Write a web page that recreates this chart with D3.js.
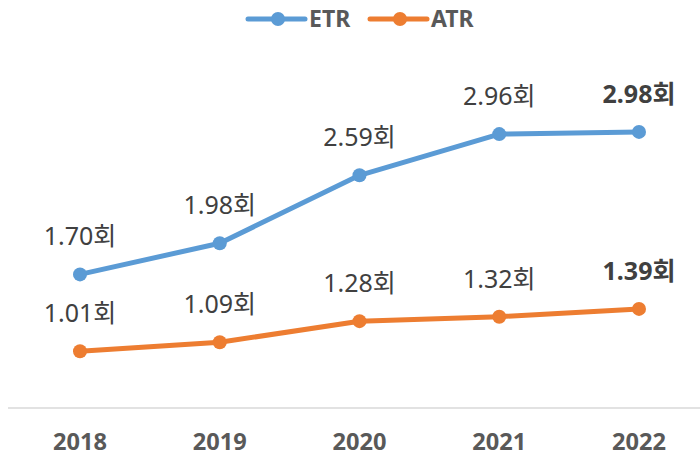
<!DOCTYPE html>
<html>
<head>
<meta charset="utf-8">
<script src="https://cdn.jsdelivr.net/npm/d3@7"></script>
<style>
  body { margin: 0; background: #fff; }
  text { font-family: "Noto Sans", "Noto Sans CJK KR", sans-serif; }
</style>
</head>
<body>
<div id="chart"></div>
<script>
// values
const years = ["2018", "2019", "2020", "2021", "2022"];
const etr = [1.70, 1.98, 2.59, 2.96, 2.98];
const atr = [1.01, 1.09, 1.28, 1.32, 1.39];
const seriesNames = ["ETR", "ATR"];
const colors = ["#5B9BD5", "#ED7D31"];

const WIDTH = 700, HEIGHT = 456;

const svg = d3.select("#chart").append("svg")
  .attr("width", WIDTH).attr("height", HEIGHT);

const x = d3.scalePoint().domain(years).range([80, 639]);
const y = d3.scaleLinear().domain([0.5, 3.5]).range([408, 74]);

// baseline
svg.append("line")
  .attr("x1", 8).attr("x2", 700)
  .attr("y1", y(0.5)).attr("y2", y(0.5))
  .attr("stroke", "#d9d9d9").attr("stroke-width", 1.5);

// x labels
svg.append("g").selectAll("text").data(years).enter().append("text")
  .attr("x", d => x(d)).attr("y", 450)
  .attr("text-anchor", "middle")
  .attr("font-size", 24).attr("font-weight", "bold")
  .attr("fill", "#595959")
  .attr("textLength", 54).attr("lengthAdjust", "spacingAndGlyphs")
  .text(d => d);

const line = d3.line().x((d, i) => x(years[i])).y(d => y(d));

[etr, atr].forEach((vals, k) => {
  const g = svg.append("g");
  g.append("path").datum(vals)
    .attr("d", line)
    .attr("fill", "none")
    .attr("stroke", colors[k]).attr("stroke-width", 5)
    .attr("stroke-linejoin", "round");
  g.selectAll("circle").data(vals).enter().append("circle")
    .attr("cx", (d, i) => x(years[i])).attr("cy", d => y(d))
    .attr("r", 7).attr("fill", colors[k]);
  g.selectAll("text").data(vals).enter().append("text")
    .attr("x", (d, i) => x(years[i])).attr("y", d => y(d) - 29)
    .attr("text-anchor", "middle")
    .attr("font-size", 25)
    .attr("font-weight", (d, i) => i === vals.length - 1 ? "bold" : "normal")
    .attr("fill", "#404040")
    .text(d => d.toFixed(2) + "회");
});

// legend
const legendX = [248, 370];
seriesNames.forEach((name, k) => {
  const lg = svg.append("g").attr("transform", `translate(${legendX[k]},19)`);
  lg.append("line").attr("x1", 0).attr("x2", 57).attr("y1", 0).attr("y2", 0)
    .attr("stroke", colors[k]).attr("stroke-width", 5).attr("stroke-linecap", "round");
  lg.append("circle").attr("cx", 30).attr("cy", 0).attr("r", 7).attr("fill", colors[k]);
  lg.append("text").attr("x", 61).attr("y", 8)
    .attr("font-size", 23).attr("font-weight", "bold").attr("fill", "#595959")
    .text(name);
});
</script>
</body>
</html>
